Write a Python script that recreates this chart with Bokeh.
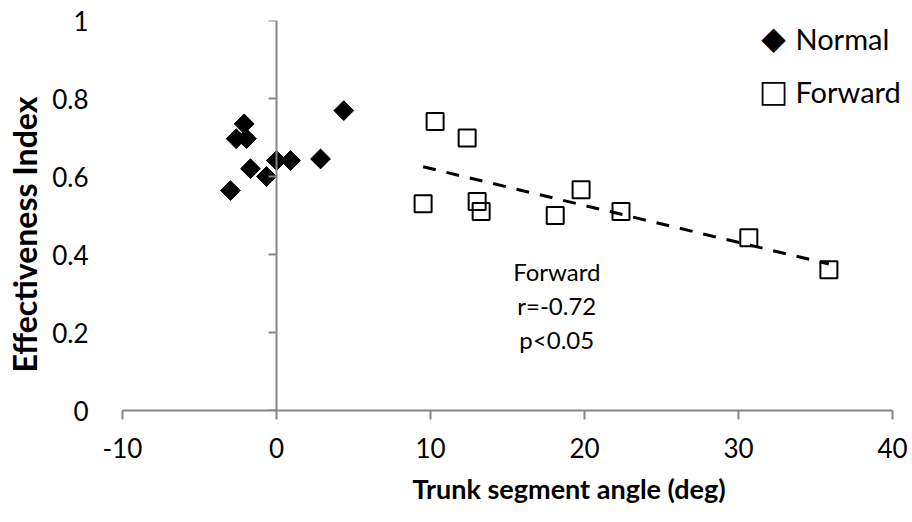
import numpy as np
from bokeh.plotting import figure
from bokeh.models import Range1d, LinearAxis, FixedTicker, Label, Title
from bokeh.embed import file_html
from bokeh.resources import INLINE

# ---- data ----
normal_x = [-2.99, -2.62, -2.10, -1.95, -1.69, -0.65, 0.00, 0.91, 2.86, 4.37]
normal_y = [0.564, 0.697, 0.735, 0.697, 0.620, 0.600, 0.641, 0.641, 0.645, 0.769]
forward_x = [9.52, 10.30, 12.38, 13.03, 13.29, 18.10, 19.78, 22.37, 30.67, 35.87]
forward_y = [0.530, 0.741, 0.699, 0.536, 0.510, 0.500, 0.566, 0.510, 0.443, 0.361]
x_ticks = [-10, 0, 10, 20, 30, 40]
x_tick_labels = ["-10", "0", "10", "20", "30", "40"]
y_ticks = [0, 0.2, 0.4, 0.6, 0.8, 1.0]
y_tick_labels = ["0", "0.2", "0.4", "0.6", "0.8", "1"]
series_names = ["Normal", "Forward"]
series_symbols = ["\u25C6", "\u25A1"]
annotation = ["Forward", "r=-0.72", "p<0.05"]
x_title = "Trunk segment angle (deg)"
y_title = "Effectiveness Index"

GRAY = "#868686"
FONT = "Lato"

# frame reaches a little past x = 40 (blank) so the legend text is not clipped
p = figure(width=912, height=522, x_range=Range1d(-10, 41.17), y_range=Range1d(0, 1),
           output_backend="svg", toolbar_location=None,
           min_border_left=122, min_border_right=2, min_border_top=20, min_border_bottom=112)
p.outline_line_color = None
p.xgrid.visible = False
p.ygrid.visible = False
p.background_fill_color = "white"

# x axis
xa = p.xaxis[0]
xa.ticker = FixedTicker(ticks=x_ticks)
xa.bounds = (-10, 40)
xa.major_label_overrides = {t: s for t, s in zip(x_ticks, x_tick_labels)}
xa.axis_line_color = GRAY
xa.axis_line_width = 2
xa.major_tick_line_color = GRAY
xa.major_tick_line_width = 2
xa.major_tick_out = 9
xa.major_tick_in = 0
xa.minor_tick_line_color = None
xa.major_label_text_font = FONT
xa.major_label_text_font_size = "26px"
xa.major_label_text_color = "black"
xa.major_label_standoff = 18

# y axis labels (at left, no line)
ya = p.yaxis[0]
ya.ticker = FixedTicker(ticks=y_ticks)
ya.major_label_overrides = {t: s for t, s in zip(y_ticks, y_tick_labels)}
ya.axis_line_color = None
ya.major_tick_line_color = None
ya.major_tick_out = 0
ya.major_tick_in = 0
ya.minor_tick_line_color = None
ya.major_label_text_font = FONT
ya.major_label_text_font_size = "26px"
ya.major_label_text_color = "black"
ya.major_label_standoff = 34

# vertical axis line crossing at x = 0
ca = LinearAxis(fixed_location=0, ticker=FixedTicker(ticks=y_ticks),
                axis_line_color=GRAY, axis_line_width=2,
                major_tick_line_color=GRAY, major_tick_line_width=2,
                major_tick_in=8, major_tick_out=0, minor_tick_line_color=None,
                major_label_text_font_size="0px", major_label_text_alpha=0)
p.add_layout(ca, "right")

# axis titles as side-panel titles (off-centre as in the reference)
p.add_layout(Title(text=x_title, align="left", offset=290, standoff=19,
                   text_font=FONT, text_font_size="27px", text_font_style="bold",
                   text_color="black"), "below")
p.add_layout(Title(text=y_title, align="left", offset=38, standoff=8,
                   vertical_align="top",
                   text_font=FONT, text_font_size="32px", text_font_style="bold",
                   text_color="black"), "left")

# points
p.scatter(forward_x, forward_y, marker="square", size=17,
          fill_color=None, line_color="black", line_width=2)
p.scatter(normal_x, normal_y, marker="square", angle=np.pi / 4, size=14,
          fill_color="black", line_color="black")

# linear trend for Forward
coef = np.polyfit(forward_x, forward_y, 1)
tx = np.array([min(forward_x), max(forward_x)])
p.line(tx, np.polyval(coef, tx), line_color="black", line_width=3,
       line_dash="13 11")

# annotation
p.add_layout(Label(x=18.2, y=0.269, text="\n".join(annotation),
                   text_align="center", text_baseline="middle",
                   text_font=FONT, text_font_size="24px", text_color="black",
                   text_line_height=1.18))

# legend (symbol + name as text)
leg_y = [0.954, 0.818]
for sym, name, yy, fs in zip(series_symbols, series_names, leg_y, ["32px", "31px"]):
    p.add_layout(Label(x=32.27, y=yy, text=sym, text_align="center",
                       text_baseline="middle", text_font="DejaVu Sans",
                       text_font_size=fs, text_color="black"))
    p.add_layout(Label(x=33.7, y=yy, text=name, text_align="left",
                       text_baseline="middle", text_font=FONT,
                       text_font_size="29px", text_color="black"))

open("out.html", "w").write(file_html(p, INLINE))
